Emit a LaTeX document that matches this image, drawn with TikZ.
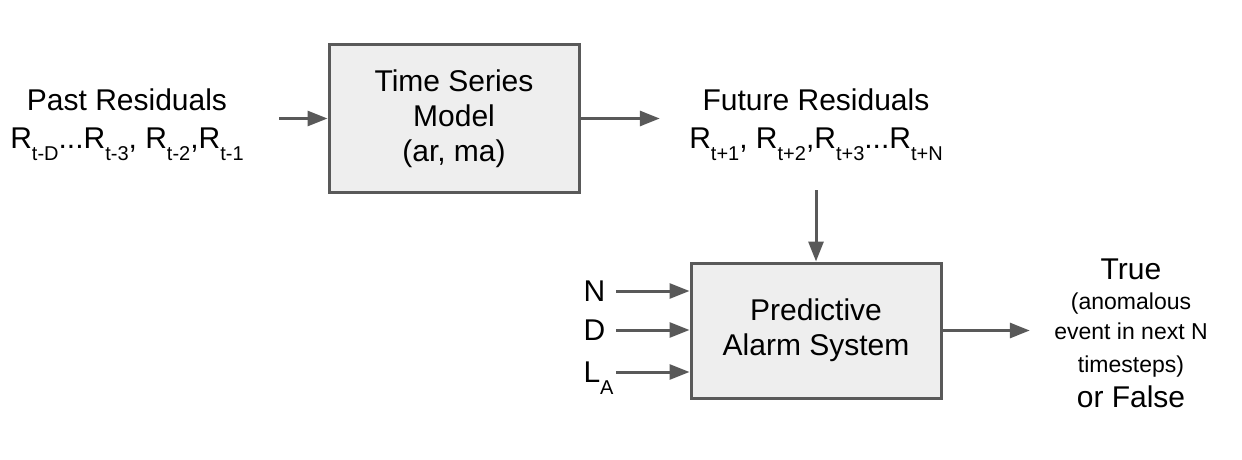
\documentclass[tikz,border=0pt]{standalone}
\usepackage{fontspec}
\setmainfont{Liberation Sans}
\usetikzlibrary{arrows.meta}

\definecolor{boxfill}{HTML}{EEEEEE}
\definecolor{linegray}{HTML}{595959}

% lowered, smaller index as in the original drawing
\newcommand{\rsub}[1]{\raisebox{-6pt}{\fontsize{10}{10}\selectfont #1}}

\begin{document}
\begin{tikzpicture}[x=0.5pt,y=-0.5pt,->,>={Triangle[length=10pt,width=7.5pt]},
                line width=1.5pt,
                block node/.style={rectangle,draw=linegray,fill=boxfill,minimum width=125pt,
                  align=center,font=\fontsize{15}{17.5}\selectfont},
                text node/.style={align=center,inner sep=0pt,font=\fontsize{15}{19}\selectfont},
                param node/.style={inner sep=0pt,text width=15.5pt,align=left,
                  text height=10.7pt,text depth=0pt,font=\fontsize{15}{18}\selectfont},
                every edge/.style={draw=linegray}]

  \useasboundingbox (0,0) rectangle (1242,460);

  \node[block node,minimum height=73.5pt] (model) at (454,118.5) {Time Series\\Model\\(ar, ma)};
  \node[block node,minimum height=67.5pt] (alarm) at (816,330.5) {Predictive\\Alarm System};

  \node[text node] (past) at (127,125) {Past Residuals\\R\rsub{t-D}...R\rsub{t-3}, R\rsub{t-2},R\rsub{t-1}};
  \node[text node] (future) at (816,125) {Future Residuals\\R\rsub{t+1}, R\rsub{t+2},R\rsub{t+3}...R\rsub{t+N}};

  \node[param node,anchor=west] (n) at (582,291) {N};
  \node[param node,anchor=west] (d) at (582,330) {D};
  \node[param node,anchor=west] (la) at (582,372) {L\rsub{A}};

  \node[text node,font=\fontsize{15}{15}\selectfont] (out) at (1131,333) {True\\
    {\fontsize{11.5}{15}\selectfont (anomalous}\\
    {\fontsize{11.5}{15}\selectfont event in next N}\\[1.5pt]
    {\fontsize{11.5}{15}\selectfont timesteps)}\\[2.5pt]
    or False};

  \path
    (past.east |- model.west) edge[shorten <=17pt] (model.west)
    (model.east) edge[shorten >=14pt] (future.west |- model.east)
    (future.south) edge[shorten <=14pt] (alarm.north)
    (n.east) edge (alarm.west |- n.east)
    (d.east) edge (alarm.west |- d.east)
    (la.east) edge (alarm.west |- la.east)
    (alarm.east) edge[shorten >=11.5pt] (out.west |- alarm.east);
\end{tikzpicture}
\end{document}
